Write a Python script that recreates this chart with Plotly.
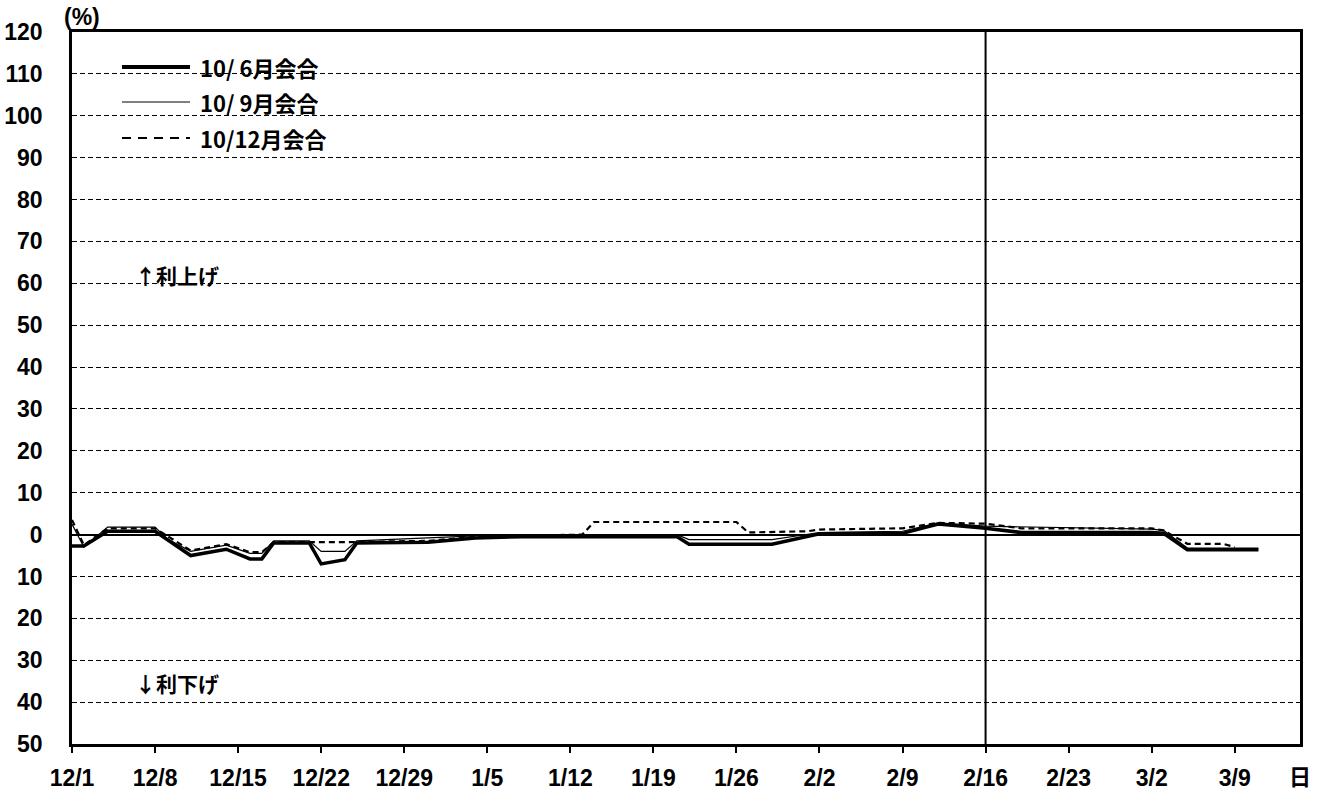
import plotly.graph_objects as go

# ---------------- data ----------------
x_tick_dates = ["2009-12-01", "2009-12-08", "2009-12-15", "2009-12-22", "2009-12-29",
                "2010-01-05", "2010-01-12", "2010-01-19", "2010-01-26", "2010-02-02",
                "2010-02-09", "2010-02-16", "2010-02-23", "2010-03-02", "2010-03-09"]
x_tick_labels = ["12/1", "12/8", "12/15", "12/22", "12/29", "1/5", "1/12", "1/19",
                 "1/26", "2/2", "2/9", "2/16", "2/23", "3/2", "3/9"]
y_tick_values = list(range(-50, 121, 10))
y_tick_labels = [str(abs(v)) for v in y_tick_values]

jun_dates = ["2009-12-01", "2009-12-02", "2009-12-04", "2009-12-08", "2009-12-11",
             "2009-12-14", "2009-12-16", "2009-12-17", "2009-12-18", "2009-12-21",
             "2009-12-22", "2009-12-24", "2009-12-25", "2009-12-31", "2010-01-04",
             "2010-01-08", "2010-01-21", "2010-01-22", "2010-01-29", "2010-02-02",
             "2010-02-09", "2010-02-12", "2010-02-16", "2010-02-19", "2010-03-02",
             "2010-03-03", "2010-03-05", "2010-03-11"]
jun_values = [-2.7, -2.7, 0.8, 0.8, -5.0,
              -3.5, -5.8, -5.8, -2.0, -2.0,
              -7.0, -6.0, -2.0, -1.8, -0.8,
              -0.5, -0.5, -2.3, -2.3, 0.2,
              0.3, 2.5, 1.5, 0.5, 0.5,
              0.3, -3.6, -3.6]

sep_dates = ["2009-12-01", "2009-12-02", "2009-12-04", "2009-12-08", "2009-12-09",
             "2009-12-11", "2009-12-14", "2009-12-16", "2009-12-17", "2009-12-18",
             "2009-12-21", "2009-12-22", "2009-12-24", "2009-12-25", "2010-01-04",
             "2010-01-21", "2010-01-22", "2010-01-29", "2010-02-02", "2010-02-09",
             "2010-02-12", "2010-02-16", "2010-03-02", "2010-03-03", "2010-03-05",
             "2010-03-11"]
sep_values = [2.5, -3.0, 1.8, 1.8, -1.0,
              -4.0, -2.5, -4.5, -4.5, -1.5,
              -1.5, -4.0, -4.0, -1.5, -0.3,
              0.0, -1.2, -1.2, 0.5, 0.8,
              2.8, 2.0, 1.3, 1.0, -3.2,
              -3.2]

dec_dates = ["2009-12-01", "2009-12-02", "2009-12-04", "2009-12-08", "2009-12-11",
             "2009-12-14", "2009-12-16", "2009-12-17", "2009-12-18", "2009-12-24",
             "2009-12-31", "2010-01-04", "2010-01-13", "2010-01-14", "2010-01-26",
             "2010-01-27", "2010-02-01", "2010-02-02", "2010-02-09", "2010-02-12",
             "2010-02-16", "2010-02-19", "2010-03-02", "2010-03-03", "2010-03-05",
             "2010-03-08", "2010-03-09"]
dec_values = [3.5, -2.5, 1.5, 1.5, -3.8,
              -2.3, -4.2, -4.2, -1.8, -1.8,
              -1.5, -0.5, 0.0, 3.0, 3.0,
              0.5, 0.8, 1.2, 1.5, 2.8,
              2.6, 1.5, 1.5, 1.0, -2.2,
              -2.2, -3.0]

series_names = ["10/ 6月会合", "10/ 9月会合", "10/12月会合"]
marker_date = "2010-02-16"

# ---------------- figure ----------------
W, H = 1325, 805
ML, MR, MT, MB = 72, 25, 32, 61
PW, PH = W - ML - MR, H - MT - MB

def px_x(px):
    return (px - ML) / PW

def px_y(py):
    return (H - MB - py) / PH

NUM_FONT = "Liberation Sans, Arial, sans-serif"
JP_FONT = "Noto Sans CJK JP, sans-serif"

fig = go.Figure()
fig.add_trace(go.Scatter(x=sep_dates, y=sep_values, mode="lines", name=series_names[1],
                         line=dict(color="black", width=1.2), showlegend=False))
fig.add_trace(go.Scatter(x=dec_dates, y=dec_values, mode="lines", name=series_names[2],
                         line=dict(color="black", width=2.2, dash="6px,4px"), showlegend=False))
fig.add_trace(go.Scatter(x=jun_dates, y=jun_values, mode="lines", name=series_names[0],
                         line=dict(color="black", width=3.5), showlegend=False))

shapes = []
shapes.append(dict(type="line", xref="x", yref="paper", x0=marker_date, x1=marker_date,
                   y0=0, y1=1, line=dict(color="black", width=2), layer="above"))
shapes.append(dict(type="rect", xref="paper", yref="paper",
                   x0=px_x(78), x1=px_x(365), y0=px_y(152), y1=px_y(48),
                   fillcolor="white", line=dict(width=0), layer="between"))
legend_rows = [67, 102, 138]
legend_styles = [dict(color="black", width=4),
                 dict(color="black", width=1.2),
                 dict(color="black", width=2.2, dash="9px,7px")]
annotations = []
for py, style, name in zip(legend_rows, legend_styles, series_names):
    shapes.append(dict(type="line", xref="paper", yref="paper",
                       x0=px_x(122), x1=px_x(190), y0=px_y(py), y1=px_y(py),
                       line=style, layer="above"))
    annotations.append(dict(xref="paper", yref="paper", x=px_x(198), y=px_y(py),
                            text=name, showarrow=False, xanchor="left", yanchor="middle",
                            font=dict(family=JP_FONT, size=22, color="black", weight="bold")))

annotations += [
    dict(xref="paper", yref="paper", x=px_x(82), y=px_y(17), text="(%)", showarrow=False,
         xanchor="center", yanchor="middle",
         font=dict(family=NUM_FONT, size=23, color="black", weight="bold")),
    dict(xref="paper", yref="paper", x=px_x(133), y=px_y(275), text="↑利上げ", showarrow=False,
         xanchor="left", yanchor="middle",
         font=dict(family=JP_FONT, size=21, color="black", weight="bold")),
    dict(xref="paper", yref="paper", x=px_x(133), y=px_y(683), text="↓利下げ", showarrow=False,
         xanchor="left", yanchor="middle",
         font=dict(family=JP_FONT, size=21, color="black", weight="bold")),
    dict(xref="paper", yref="paper", x=px_x(1300), y=px_y(775), text="日", showarrow=False,
         xanchor="center", yanchor="middle",
         font=dict(family=JP_FONT, size=22, color="black", weight="bold")),
]

fig.update_layout(
    width=W, height=H,
    margin=dict(l=ML, r=MR, t=MT, b=MB, pad=0, autoexpand=False),
    paper_bgcolor="white", plot_bgcolor="white",
    showlegend=False,
    shapes=shapes, annotations=annotations,
    xaxis=dict(
        type="date", automargin=False,
        range=["2009-12-01", "2010-03-14 12:00"],
        tickmode="array", tickvals=x_tick_dates, ticktext=x_tick_labels,
        ticks="outside", ticklen=6, tickwidth=2, tickcolor="black",
        ticklabelstandoff=6,
        showgrid=False, zeroline=False,
        showline=True, linecolor="black", linewidth=2.5, mirror=True,
        tickfont=dict(family=NUM_FONT, size=23, color="black", weight="bold"),
    ),
    yaxis=dict(
        range=[-50, 120], automargin=False,
        tickmode="array", tickvals=y_tick_values, ticktext=y_tick_labels,
        ticks="outside", ticklen=0, tickcolor="white", ticklabelstandoff=22,
        showgrid=True, gridcolor="black", gridwidth=1, griddash="5px,3px",
        zeroline=True, zerolinecolor="black", zerolinewidth=1.8,
        showline=True, linecolor="black", linewidth=2.5, mirror=True,
        tickfont=dict(family=NUM_FONT, size=23, color="black", weight="bold"),
    ),
)

fig.write_html("out.html")
